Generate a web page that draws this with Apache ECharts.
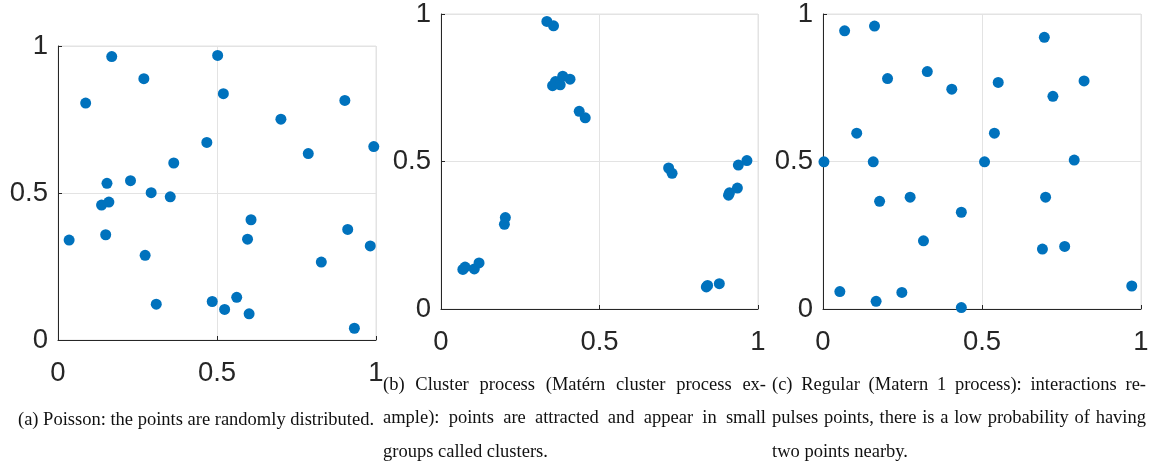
<!DOCTYPE html>
<html><head><meta charset="utf-8">
<script src="https://cdn.jsdelivr.net/npm/echarts@6/dist/echarts.min.js"></script>
<style>html,body{margin:0;padding:0;background:#fff}#c{width:1153px;height:466px}</style>
</head><body><div id="c"></div>
<script>
const poissonX = [0.035, 0.087, 0.169, 0.270, 0.502, 0.520, 0.902, 0.701, 0.468, 0.993, 0.787, 0.364, 0.154, 0.228, 0.293, 0.353, 0.137, 0.160, 0.150, 0.274, 0.607, 0.596, 0.911, 0.982, 0.828, 0.309, 0.485, 0.524, 0.562, 0.601, 0.932];
const poissonY = [0.340, 0.806, 0.964, 0.889, 0.968, 0.838, 0.815, 0.751, 0.672, 0.658, 0.634, 0.602, 0.533, 0.542, 0.501, 0.487, 0.459, 0.469, 0.358, 0.288, 0.409, 0.343, 0.376, 0.320, 0.265, 0.122, 0.131, 0.104, 0.145, 0.089, 0.040];
const clusterX = [0.069, 0.076, 0.105, 0.120, 0.200, 0.203, 0.334, 0.355, 0.352, 0.361, 0.376, 0.384, 0.407, 0.436, 0.455, 0.718, 0.729, 0.965, 0.938, 0.935, 0.907, 0.910, 0.837, 0.841, 0.878];
const clusterY = [0.134, 0.142, 0.136, 0.156, 0.287, 0.310, 0.975, 0.960, 0.757, 0.771, 0.760, 0.789, 0.779, 0.670, 0.648, 0.478, 0.460, 0.503, 0.488, 0.410, 0.386, 0.394, 0.075, 0.080, 0.086];
const regularX = [0.068, 0.162, 0.203, 0.328, 0.405, 0.551, 0.696, 0.821, 0.723, 0.106, 0.539, 0.003, 0.158, 0.508, 0.790, 0.178, 0.274, 0.435, 0.700, 0.316, 0.690, 0.760, 0.053, 0.167, 0.248, 0.435, 0.971];
const regularY = [0.943, 0.959, 0.781, 0.805, 0.745, 0.768, 0.921, 0.773, 0.721, 0.596, 0.596, 0.499, 0.499, 0.499, 0.505, 0.365, 0.379, 0.328, 0.379, 0.231, 0.203, 0.212, 0.059, 0.026, 0.056, 0.005, 0.078];
const tickLabels = ['0', '0.5', '1'];
const captionA = ['(a) Poisson: the points are randomly distributed.'];
const captionB = ['(b) Cluster process (Matérn cluster process ex-', 'ample): points are attracted and appear in small', 'groups called clusters.'];
const captionC = ['(c) Regular (Matern 1 process): interactions re-', 'pulses points, there is a low probability of having', 'two points nearby.'];

const grids = [
  {left: 58, top: 46, width: 318, height: 294},
  {left: 441, top: 14, width: 317, height: 295},
  {left: 823, top: 14, width: 318, height: 295}
];
const sets = [[poissonX, poissonY], [clusterX, clusterY], [regularX, regularY]];
const axisColor = '#262626';
const tickFont = {fontSize: 27.5, fontFamily: '"Liberation Sans", Arial, sans-serif', color: axisColor};
const fmt = v => tickLabels[Math.round(v * 2)];

const xAxes = [], yAxes = [], series = [];
grids.forEach((g, i) => {
  const common = {
    type: 'value', gridIndex: i, min: 0, max: 1, interval: 0.5,
    axisLine: {show: true, onZero: false, lineStyle: {color: axisColor, width: 1}},
    axisTick: {show: true, inside: true, length: 4, lineStyle: {color: axisColor}},
    splitLine: {show: true, lineStyle: {color: '#e3e3e3', width: 1}}
  };
  xAxes.push(Object.assign({}, common, {axisLabel: Object.assign({margin: 19, formatter: fmt}, tickFont)}));
  yAxes.push(Object.assign({}, common, {axisLabel: Object.assign({margin: 10, formatter: fmt}, tickFont)}));
  series.push({
    type: 'scatter', xAxisIndex: i, yAxisIndex: i, symbolSize: 11,
    itemStyle: {color: '#0072BD', opacity: 1},
    data: sets[i][0].map((x, k) => [x, sets[i][1][k]]),
    silent: true
  });
});

// captions
const capFontSize = 18.5;
const capFamily = '"Liberation Serif", "Times New Roman", serif';
const mctx = document.createElement('canvas').getContext('2d');
mctx.font = capFontSize + 'px ' + capFamily;
const graphics = [];
function textEl(str, x, y, align) {
  graphics.push({type: 'text', x: x, y: y, silent: true,
    style: {text: str, fontSize: capFontSize, fontFamily: capFamily, fill: '#111', align: align || 'left', verticalAlign: 'middle'}});
}
function justified(lines, x0, w, y0, lh) {
  lines.forEach((line, li) => {
    const y = y0 + li * lh;
    if (li === lines.length - 1) { textEl(line, x0, y, 'left'); return; }
    const words = line.split(' ');
    const widths = words.map(wd => mctx.measureText(wd).width);
    const total = widths.reduce((a, b) => a + b, 0);
    const gap = (w - total) / (words.length - 1);
    let x = x0;
    words.forEach((wd, k) => { textEl(wd, x, y, 'left'); x += widths[k] + gap; });
  });
}
textEl(captionA[0], 196, 420, 'center');
justified(captionB, 383, 383, 385, 33.5);
justified(captionC, 772, 374, 385, 33.5);

const chart = echarts.init(document.getElementById('c'), null, {renderer: 'canvas'});
chart.setOption({
  animation: false,
  backgroundColor: '#fff',
  grid: grids.map(g => Object.assign({show: true, borderColor: '#e3e3e3', borderWidth: 1, containLabel: false}, g)),
  xAxis: xAxes, yAxis: yAxes, series: series,
  graphic: graphics
});
</script></body></html>
